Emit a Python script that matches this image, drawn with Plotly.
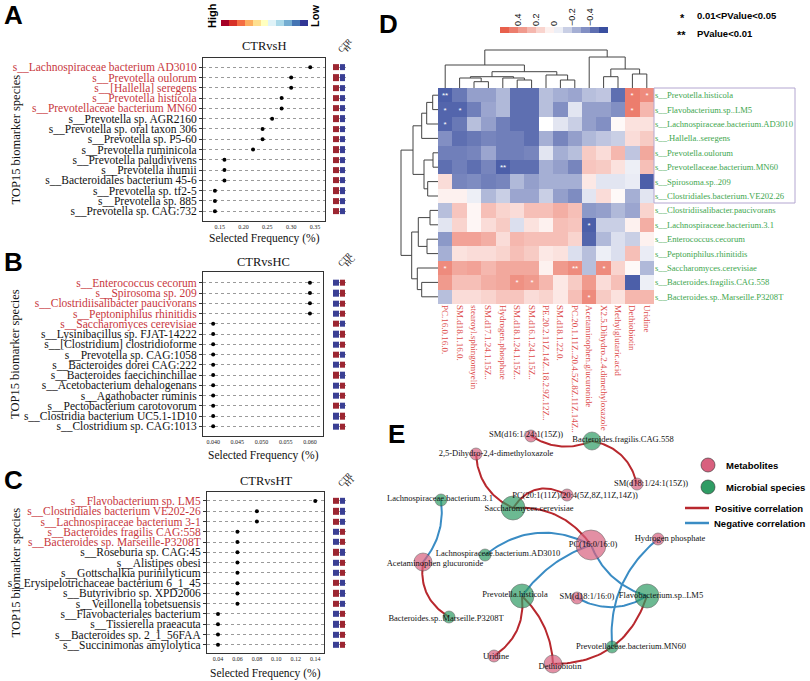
import numpy as np
import plotly.graph_objects as go

W, H = 810, 681
def fx(p): return p / W
def fy(p): return 1 - p / H

SERIF = "Liberation Serif"
SANS = "Liberation Sans"

# ---------------- Panel A/B/C data ----------------
species_A = ["s__Lachnospiraceae bacterium AD3010", "s__Prevotella oulorum", "s__[Hallella] seregens",
             "s__Prevotella histicola", "s__Prevotellaceae bacterium MN60", "s__Prevotella sp. AGR2160",
             "s__Prevotella sp. oral taxon 306", "s__Prevotella sp. P5-60", "s__Prevotella ruminicola",
             "s__Prevotella paludivivens", "s__Prevotella ihumii", "s__Bacteroidales bacterium 45-6",
             "s__Prevotella sp. tf2-5", "s__Prevotella sp. 885", "s__Prevotella sp. CAG:732"]
freq_A = [0.34, 0.30, 0.30, 0.28, 0.28, 0.26, 0.24, 0.24, 0.22, 0.16, 0.16, 0.16, 0.14, 0.14, 0.14]
highlight_A = [1, 1, 1, 1, 1, 0, 0, 0, 0, 0, 0, 0, 0, 0, 0]
ctr_high_A = [1] * 15
ticks_A = [0.15, 0.20, 0.25, 0.30, 0.35]

species_B = ["s__Enterococcus cecorum", "s__Spirosoma sp. 209", "s__Clostridiisalibacter paucivorans",
             "s__Peptoniphilus rhinitidis", "s__Saccharomyces cerevisiae", "s__Lysinibacillus sp. FJAT-14222",
             "s__[Clostridium] clostridioforme", "s__Prevotella sp. CAG:1058", "s__Bacteroides dorei CAG:222",
             "s__Bacteroides faecichinchillae", "s__Acetobacterium dehalogenans", "s__Agathobacter ruminis",
             "s__Pectobacterium carotovorum", "s__Clostridia bacterium UC5.1-1D10", "s__Clostridium sp. CAG:1013"]
freq_B = [0.060, 0.060, 0.060, 0.060, 0.040, 0.040, 0.040, 0.040, 0.040, 0.040, 0.040, 0.040, 0.040, 0.040, 0.040]
highlight_B = [1, 1, 1, 1, 1, 0, 0, 0, 0, 0, 0, 0, 0, 0, 0]
ctr_high_B = [0, 0, 0, 0, 1, 0, 0, 1, 0, 1, 0, 0, 1, 0, 0]
ticks_B = [0.040, 0.045, 0.050, 0.055, 0.060]

species_C = ["s__Flavobacterium sp. LM5", "s__Clostridiales bacterium VE202-26", "s__Lachnospiraceae bacterium 3-1",
             "s__Bacteroides fragilis CAG:558", "s__Bacteroides sp. Marseille-P3208T", "s__Roseburia sp. CAG:45",
             "s__Alistipes obesi", "s__Gottschalkia purinilyticum", "s__Erysipelotrichaceae bacterium 6_1_45",
             "s__Butyrivibrio sp. XPD2006", "s__Veillonella tobetsuensis", "s__Flavobacteriales bacterium",
             "s__Tissierella praeacuta", "s__Bacteroides sp. 2_1_56FAA", "s__Succinimonas amylolytica"]
freq_C = [0.14, 0.08, 0.08, 0.06, 0.06, 0.06, 0.06, 0.06, 0.06, 0.06, 0.06, 0.04, 0.04, 0.04, 0.04]
highlight_C = [1, 1, 1, 1, 1, 0, 0, 0, 0, 0, 0, 0, 0, 0, 0]
ctr_high_C = [1, 1, 1, 0, 0, 1, 0, 0, 1, 1, 1, 0, 0, 0, 0]
ticks_C = [0.04, 0.06, 0.08, 0.10, 0.12, 0.14]

# ---------------- Panel D data ----------------
metabolites = ["PC.16.0.16.0.", "SM.d18.1.16.0.", "stearoyl.sphingomyelin", "SM.d17.1.24.1.15Z..",
               "Hydrogen.phosphate", "SM.d18.1.24.1.15Z..", "SM.d16.1.24.1.15Z..",
               "PE.20.2.11Z.14Z..18.2.9Z.12Z..", "SM.d18.1.22.0.", "PC.20.1.11Z..20.4.5Z.8Z.11Z.14Z..",
               "Acetaminophen.glucuronide", "X2.5.Dihydro.2.4.dimethyloxazole", "Methylglutaric.acid",
               "Dethiobiotin", "Uridine"]
microbes = ["s__Prevotella.histicola", "s__Flavobacterium.sp..LM5", "s__Lachnospiraceae.bacterium.AD3010",
            "s__.Hallella..seregens", "s__Prevotella.oulorum", "s__Prevotellaceae.bacterium.MN60",
            "s__Spirosoma.sp..209", "s__Clostridiales.bacterium.VE202.26", "s__Clostridiisalibacter.paucivorans",
            "s__Lachnospiraceae.bacterium.3.1", "s__Enterococcus.cecorum", "s__Peptoniphilus.rhinitidis",
            "s__Saccharomyces.cerevisiae", "s__Bacteroides.fragilis.CAG.558", "s__Bacteroides.sp..Marseille.P3208T"]
corr = [
    [-0.50, -0.42, -0.30, -0.30, -0.22, -0.45, -0.45, -0.20, -0.25, -0.28, -0.20, -0.18, -0.45, 0.45, 0.40],
    [-0.48, -0.48, -0.40, -0.28, -0.22, -0.45, -0.45, -0.20, -0.35, -0.08, -0.30, -0.30, -0.35, 0.45, 0.25],
    [-0.48, -0.42, -0.20, -0.30, -0.40, -0.45, -0.45, 0.00, -0.08, -0.15, -0.30, -0.35, 0.02, 0.10, 0.10],
    [-0.35, -0.45, -0.42, -0.38, -0.40, -0.40, -0.45, -0.25, -0.38, -0.30, -0.22, -0.18, -0.15, 0.12, 0.18],
    [-0.40, -0.40, -0.38, -0.28, -0.40, -0.40, -0.38, -0.08, -0.25, -0.20, 0.18, 0.12, 0.25, -0.18, 0.30],
    [-0.45, -0.40, -0.45, -0.38, -0.50, -0.45, -0.45, -0.25, -0.30, -0.38, 0.20, 0.18, 0.10, -0.05, 0.22],
    [0.12, -0.38, -0.36, -0.40, -0.38, -0.22, -0.30, -0.25, -0.25, -0.25, 0.08, -0.08, -0.08, -0.06, -0.50],
    [0.05, 0.05, -0.05, -0.22, -0.15, -0.28, -0.28, -0.15, -0.30, -0.36, -0.08, 0.12, 0.02, -0.25, -0.08],
    [-0.20, 0.20, 0.03, 0.22, 0.15, 0.12, 0.22, 0.22, 0.28, 0.22, -0.32, -0.30, -0.22, -0.28, 0.15],
    [-0.08, 0.15, 0.03, 0.12, 0.18, -0.10, 0.10, 0.05, 0.22, 0.20, -0.50, -0.15, -0.15, 0.05, 0.28],
    [-0.32, 0.32, 0.32, 0.28, 0.12, 0.25, 0.22, 0.22, 0.22, 0.15, -0.48, -0.22, -0.10, -0.15, 0.05],
    [-0.25, 0.10, 0.12, 0.12, 0.15, 0.22, 0.18, 0.08, 0.10, -0.10, -0.20, -0.05, -0.10, 0.22, -0.06],
    [0.40, 0.30, 0.32, 0.25, 0.30, 0.30, 0.30, 0.05, 0.35, 0.40, -0.20, 0.40, 0.15, 0.02, -0.22],
    [0.35, 0.22, 0.22, 0.28, 0.30, 0.38, 0.35, 0.25, 0.08, 0.18, 0.35, 0.12, 0.22, -0.50, -0.05],
    [-0.20, 0.12, 0.12, 0.15, 0.20, 0.20, 0.12, 0.15, 0.08, 0.22, 0.40, 0.18, 0.10, 0.25, 0.25],
]
# significance level: 0 none, 1 -> 0.01<p<0.05, 2 -> p<0.01
signif = [
    [2, 0, 0, 0, 0, 0, 0, 0, 0, 0, 0, 0, 0, 1, 1],
    [1, 1, 0, 0, 0, 0, 0, 0, 0, 0, 0, 0, 0, 1, 0],
    [1, 0, 0, 0, 0, 0, 0, 0, 0, 0, 0, 0, 0, 0, 0],
    [0, 0, 0, 0, 0, 0, 0, 0, 0, 0, 0, 0, 0, 0, 0],
    [0, 0, 0, 0, 0, 0, 0, 0, 0, 0, 0, 0, 0, 0, 0],
    [0, 0, 0, 0, 2, 0, 0, 0, 0, 0, 0, 0, 0, 0, 0],
    [0, 0, 0, 0, 0, 0, 0, 0, 0, 0, 0, 0, 0, 0, 0],
    [0, 0, 0, 0, 0, 0, 0, 0, 0, 0, 0, 0, 0, 0, 0],
    [0, 0, 0, 0, 0, 0, 0, 0, 0, 0, 0, 0, 0, 0, 0],
    [0, 0, 0, 0, 0, 0, 0, 0, 0, 0, 1, 0, 0, 0, 0],
    [0, 0, 0, 0, 0, 0, 0, 0, 0, 0, 0, 0, 0, 0, 0],
    [0, 0, 0, 0, 0, 0, 0, 0, 0, 0, 0, 0, 0, 0, 0],
    [1, 0, 0, 0, 0, 0, 0, 0, 0, 2, 0, 1, 0, 0, 0],
    [0, 0, 0, 0, 0, 1, 1, 0, 0, 0, 0, 0, 0, 0, 0],
    [0, 0, 0, 0, 0, 0, 0, 0, 0, 0, 1, 0, 0, 0, 0],
]
# dendrograms as (height, left, right) merges, leaves are indices
col_tree = (38, (23, 0, (16.3, (11.3, (10, 1, (6.3, 2, 3)), (10, 4, (8, 5, 6))), (13, 7, (8, 8, 9)))),
            (31, 10, (19, (11.3, 11, 12), (14, 13, 14))))
row_tree = (37, (25, (16.3, (11.3, (5.3, 0, 1), 2), 3), (14, (5, 4, 5), (10.3, 6, 7))),
            (26.3, (19.7, (8, 8, 9), (11, 10, 11)), (20.7, 12, (16.3, 13, 14))))
cbar_D = [0.55, 0.45, 0.35, 0.25, 0.15, 0.05, -0.05, -0.15, -0.25, -0.35, -0.45, -0.55]
cbar_A = [0, 1, 2, 3, 4, 5, 6, 7, 8, 9, 10]

# ---------------- Panel E data ----------------
node_names = ["SM(d16:1/24:1(15Z))", "Bacteroides.fragilis.CAG.558", "2,5-Dihydro-2,4-dimethyloxazole",
              "SM(d18:1/24:1(15Z))", "PC(20:1(11Z)/20:4(5Z,8Z,11Z,14Z))", "Lachnospiraceae.bacterium.3.1",
              "Saccharomyces.cerevisiae", "PC(16:0/16:0)", "Hydrogen phosphate",
              "Lachnospiraceae.bacterium.AD3010", "Acetaminophen glucuronide", "Prevotella.histicola",
              "SM(d18:1/16:0)", "Flavobacterium.sp..LM5", "Bacteroides.sp..Marseille.P3208T",
              "Prevotellaceae.bacterium.MN60", "Uridine", "Dethiobiotin"]
node_type = ["M", "S", "M", "M", "M", "S", "S", "M", "M", "S", "M", "S", "M", "S", "S", "S", "M", "M"]
# network layout coordinates
node_x = [531, 592, 476, 637, 567, 441, 513, 591, 658, 485, 423, 522, 577, 647, 449, 612, 494, 553]
node_y = [436, 441, 454, 484, 495, 500, 508, 545, 539, 555, 562, 596, 598, 596, 617, 647, 656, 664]
edges = [  # (source, target, sign)
    (0, 1, 1), (1, 3, 1), (2, 6, 1), (6, 4, 1), (6, 7, 1), (10, 14, 1), (11, 16, 1), (11, 17, 1), (13, 17, 1),
    (5, 10, -1), (9, 7, -1), (11, 7, -1), (13, 7, -1), (13, 12, -1), (15, 8, -1),
]
legend_items = ["Metabolites", "Microbial species", "Positive correlation", "Negative correlation"]

# ---------------- style ----------------
edge_curv = [0.26, -0.32, 0.30, -0.45, -0.28, 0.33, -0.30, -0.20, -0.36,
             -0.22, -0.32, -0.16, -0.24, -0.29, -0.26]
label_off = [(-5, -1), (31, -1), (20, 0), (14, 0), (8, 1), (-1, -1), (16, 1), (2, 0), (12, 0),
             (13, -1), (12, 2), (-7, -1), (10, -1), (14, 0), (-3, 2), (19, 0), (2, 1), (7, 3)]
RED_LBL = "#c8373d"
SQ_RED, SQ_BLUE = "#9c2631", "#3a3f94"
HM_SCALE = [[0, "#3a4fa0"], [0.5, "#ffffff"], [1, "#e8604c"]]
PINK, GREEN, POS, NEG = "#d8607e", "#2f9c64", "#b8282e", "#3a8cc4"

fig = go.Figure()
layout = dict(width=W, height=H, margin=dict(l=0, r=0, t=0, b=0, autoexpand=False), paper_bgcolor="white",
              plot_bgcolor="rgba(0,0,0,0)", showlegend=False)
annotations = []
shapes = []

def hidden_axis(domain, rng, anchor, **kw):
    d = dict(domain=domain, range=rng, anchor=anchor, visible=False, showgrid=False, zeroline=False, fixedrange=True)
    d.update(kw)
    return d

def ann(x, y, text, size, family=SERIF, angle=0, xanchor="center", yanchor="middle", color="#111"):
    annotations.append(dict(x=fx(x), y=fy(y), xref="paper", yref="paper", text=text, showarrow=False,
                            textangle=angle, xanchor=xanchor, yanchor=yanchor,
                            font=dict(family=family, size=size, color=color)))

# ---------------- Panels A, B, C ----------------
panels = [
    ("A", species_A, freq_A, highlight_A, ctr_high_A, ticks_A, "CTRvsH", "H",
     (203, 325), (58, 221), (-0.9, 14.95), (0.115, 0.371), 1, 2, 238, 46, 15),
    ("B", species_B, freq_B, highlight_B, ctr_high_B, ticks_B, "CTRvsHC", "HC",
     (203, 323), (272, 436), (-1.05, 14.95), (0.0379, 0.0627), 3, 4, 455, 262, 262),
    ("C", species_C, freq_C, highlight_C, ctr_high_C, ticks_C, "CTRvsHT", "HT",
     (207, 324), (492, 653), (-0.87, 14.8), (0.0287, 0.149), 5, 6, 673, 481, 480),
]
for (letter, sp, fr, hl, ch, tks, title, grp, xd, yd, yr, xr, ia, ib, xt_y, title_y, let_y) in panels:
    n = len(sp)
    rows = list(range(n))
    ticktext = [f"<span style='color:{RED_LBL}'>{s}</span>" if h else s for s, h in zip(sp, hl)]
    layout[f"xaxis{ia}"] = dict(domain=[fx(xd[0]), fx(xd[1])], range=list(xr), anchor=f"y{ia}", showgrid=False,
                                zeroline=False, showline=True, mirror=True, linecolor="#333", linewidth=1,
                                tickvals=tks, ticktext=[f"{t:.3f}" if letter == "B" else f"{t:.2f}" for t in tks],
                                tickfont=dict(family=SERIF, size=6, color="#222"), ticks="", fixedrange=True)
    layout[f"yaxis{ia}"] = dict(domain=[fy(yd[1]), fy(yd[0])], range=[yr[1], yr[0]], anchor=f"x{ia}",
                                tickvals=rows, ticktext=ticktext, showgrid=True, gridcolor="#9a9a9a",
                                griddash="dot", gridwidth=0.7, zeroline=False, showline=True, mirror=True,
                                linecolor="#333", linewidth=1, ticks="outside", ticklen=3, tickcolor="#333",
                                tickfont=dict(family=SERIF, size=11.5, color="#111"), fixedrange=True)
    fig.add_trace(go.Scatter(x=fr, y=rows, mode="markers", xaxis=f"x{ia}", yaxis=f"y{ia}",
                             marker=dict(color="black", size=4), hoverinfo="x+y"))
    z = [[c, 1 - c] for c in ch]
    layout[f"xaxis{ib}"] = hidden_axis([fx(333), fx(346)], [-0.5, 1.5], f"y{ia}")
    fig.add_trace(go.Heatmap(z=z, x=[0, 1], y=rows, xaxis=f"x{ib}", yaxis=f"y{ia}", zmin=0, zmax=1,
                             colorscale=[[0, SQ_BLUE], [1, SQ_RED]], showscale=False, xgap=1, ygap=4,
                             hoverinfo="skip"))
    ann(333, yd[0] - 1, "CTR", 8, angle=-45, xanchor="left", yanchor="bottom")
    ann(339.5, yd[0] - 1, grp, 8, angle=-45, xanchor="left", yanchor="bottom")
    ann((xd[0] + xd[1]) / 2, title_y, title, 12.5)
    ann((xd[0] + xd[1]) / 2, xt_y, "Selected Frequency (%)", 11.5)
    ann(15, (yd[0] + yd[1]) / 2, "TOP15 biomarker species", 12.5, angle=-90)
    ann(14, let_y, f"<b>{letter}</b>", 26, family=SANS, color="black")

# High/Low color bar
layout["xaxis7"] = hidden_axis([fx(221), fx(308)], [-0.5, 10.5], "y7")
layout["yaxis7"] = hidden_axis([fy(26), fy(20)], [-0.5, 0.5], "x7")
fig.add_trace(go.Heatmap(z=[cbar_A], x=cbar_A, y=[0], xaxis="x7", yaxis="y7", colorscale="RdYlBu",
                         showscale=False, hoverinfo="skip"))
ann(212, 16, "<b>High</b>", 11, family=SANS, angle=-90, color="black")
ann(315, 16, "<b>Low</b>", 11, family=SANS, angle=-90, color="black")

# ---------------- Panel D heatmap ----------------
nr, nc = len(microbes), len(metabolites)
hm_x0, hm_x1, hm_y0, hm_y1 = 438, 654, 88, 304
layout["xaxis8"] = dict(domain=[fx(hm_x0), fx(hm_x1)], range=[-0.5, nc - 0.5], anchor="y8",
                        tickvals=list(range(nc)), ticktext=metabolites, tickangle=90, showgrid=False,
                        zeroline=False, showline=False, ticks="",
                        tickfont=dict(family=SERIF, size=9, color="#dd4b4b"), fixedrange=True)
layout["yaxis8"] = dict(domain=[fy(hm_y1), fy(hm_y0)], range=[nr - 0.5, -0.5], anchor="x8", side="right",
                        tickvals=list(range(nr)), ticktext=microbes, showgrid=False, zeroline=False,
                        showline=False, ticks="", tickfont=dict(family=SERIF, size=8.6, color="#3ea64e"),
                        fixedrange=True)
star_text = [["*" * s for s in row] for row in signif]
fig.add_trace(go.Heatmap(z=corr, x=list(range(nc)), y=list(range(nr)), xaxis="x8", yaxis="y8",
                         colorscale=HM_SCALE, zmin=-0.55, zmax=0.55, showscale=False,
                         text=star_text, texttemplate="%{text}",
                         textfont=dict(color="white", size=8, family=SANS)))
shapes.append(dict(type="rect", xref="paper", yref="paper", x0=fx(654), x1=fx(795), y0=fy(203), y1=fy(88),
                   line=dict(color="#b3a6d0", width=1)))

def dendro(tree):
    xs, ys = [], []
    def rec(node):
        if isinstance(node, int):
            return float(node), 0.0
        h, l, r = node
        xl, hl_ = rec(l)
        xr_, hr_ = rec(r)
        xs.extend([xl, xl, xr_, xr_, None])
        ys.extend([hl_, h, h, hr_, None])
        return (xl + xr_) / 2, h
    rec(tree)
    return xs, ys

cx, ch_ = dendro(col_tree)
layout["xaxis9"] = hidden_axis([fx(hm_x0), fx(hm_x1)], [-0.5, nc - 0.5], "y9")
layout["yaxis9"] = hidden_axis([fy(hm_y0), fy(hm_y0 - 40)], [0, 40], "x9")
fig.add_trace(go.Scatter(x=cx, y=ch_, xaxis="x9", yaxis="y9", mode="lines",
                         line=dict(color="#444", width=1), hoverinfo="skip"))
ry, rh = dendro(row_tree)
layout["xaxis10"] = hidden_axis([fx(hm_x0 - 40), fx(hm_x0)], [40, 0], "y10")
layout["yaxis10"] = hidden_axis([fy(hm_y1), fy(hm_y0)], [nr - 0.5, -0.5], "x10")
fig.add_trace(go.Scatter(x=rh, y=ry, xaxis="x10", yaxis="y10", mode="lines",
                         line=dict(color="#444", width=1), hoverinfo="skip"))

# D colour bar
layout["xaxis11"] = dict(domain=[fx(500), fx(608)], range=[0.6, -0.6], anchor="y11", side="top",
                         tickvals=[0.4, 0.2, 0, -0.2, -0.4], ticktext=["0.4", "0.2", "0", "\u22120.2", "\u22120.4"],
                         tickangle=-90, ticks="", showgrid=False, zeroline=False, showline=False,
                         tickfont=dict(family=SANS, size=9, color="#111"), fixedrange=True)
layout["yaxis11"] = hidden_axis([fy(33), fy(27)], [-0.5, 0.5], "x11")
fig.add_trace(go.Heatmap(z=[cbar_D], x=cbar_D, y=[0], xaxis="x11", yaxis="y11", colorscale=HM_SCALE,
                         zmin=-0.55, zmax=0.55, showscale=False, hoverinfo="skip"))
ann(682, 18, "<b>*</b>", 11, family=SANS, color="black")
ann(695, 16, "<b>0.01&lt;PValue&lt;0.05</b>", 9.5, family=SANS, xanchor="left", color="black")
ann(681, 35, "<b>**</b>", 11, family=SANS, color="black")
ann(695, 33, "<b>PValue&lt;0.01</b>", 9.5, family=SANS, xanchor="left", color="black")
ann(388, 24, "<b>D</b>", 26, family=SANS, color="black")

# ---------------- Panel E network ----------------
layout["xaxis12"] = hidden_axis([fx(385), fx(700)], [385, 700], "y12")
layout["yaxis12"] = hidden_axis([fy(681), fy(420)], [681, 420], "x12")
curves = {1: ([], []), -1: ([], [])}
for (s, t, sign), c in zip(edges, edge_curv):
    x0, y0, x1, y1 = node_x[s], node_y[s], node_x[t], node_y[t]
    dx, dy = x1 - x0, y1 - y0
    mx, my = (x0 + x1) / 2, (y0 + y1) / 2
    px, py = mx + c * (-dy), my + c * dx
    tt = np.linspace(0, 1, 40)
    bx = (1 - tt) ** 2 * x0 + 2 * (1 - tt) * tt * px + tt ** 2 * x1
    by = (1 - tt) ** 2 * y0 + 2 * (1 - tt) * tt * py + tt ** 2 * y1
    curves[sign][0].extend(list(bx) + [None])
    curves[sign][1].extend(list(by) + [None])
degree = [0] * len(node_names)
for s, t, _ in edges:
    degree[s] += 1
    degree[t] += 1
sizes = [6 + 6 * d for d in degree]

fig.add_trace(go.Scatter(x=curves[1][0], y=curves[1][1], xaxis="x12", yaxis="y12", mode="lines",
                         line=dict(color=POS, width=2), name=legend_items[2], hoverinfo="skip",
                         cliponaxis=False))
fig.add_trace(go.Scatter(x=curves[-1][0], y=curves[-1][1], xaxis="x12", yaxis="y12", mode="lines",
                         line=dict(color=NEG, width=2), name=legend_items[3], hoverinfo="skip",
                         cliponaxis=False))
for typ, col, nm in [("M", PINK, legend_items[0]), ("S", GREEN, legend_items[1])]:
    idx = [i for i, t in enumerate(node_type) if t == typ]
    fig.add_trace(go.Scatter(x=[node_x[i] for i in idx], y=[node_y[i] for i in idx], xaxis="x12", yaxis="y12",
                             mode="markers", marker=dict(color=col, size=[sizes[i] for i in idx],
                                                         line=dict(color="#333", width=0.6)),
                             name=nm, text=[node_names[i] for i in idx], hoverinfo="text", cliponaxis=False))
fig.add_trace(go.Scatter(x=[node_x[i] + label_off[i][0] for i in range(len(node_names))],
                         y=[node_y[i] + label_off[i][1] for i in range(len(node_names))],
                         xaxis="x12", yaxis="y12", mode="text", text=node_names, cliponaxis=False,
                         textfont=dict(family=SERIF, size=8.5, color="#111"), hoverinfo="skip"))
ann(396, 434, "<b>E</b>", 26, family=SANS, color="black")

# manual legend for E
for (cy, col) in [(465, PINK), (487, GREEN)]:
    shapes.append(dict(type="circle", xref="paper", yref="paper", x0=fx(701), x1=fx(715), y0=fy(cy + 7),
                       y1=fy(cy - 7), fillcolor=col, line=dict(color="#333", width=0.6)))
for (cy, col) in [(508, POS), (523, NEG)]:
    shapes.append(dict(type="line", xref="paper", yref="paper", x0=fx(685), x1=fx(709), y0=fy(cy), y1=fy(cy),
                       line=dict(color=col, width=2.5)))
ann(724, 465, f"<b>{legend_items[0]}</b>", 9.5, family=SANS, xanchor="left", color="black")
ann(724, 487, f"<b>{legend_items[1]}</b>", 9.5, family=SANS, xanchor="left", color="black")
ann(713, 508, f"<b>{legend_items[2]}</b>", 9.5, family=SANS, xanchor="left", color="black")
ann(712, 523, f"<b>{legend_items[3]}</b>", 9.5, family=SANS, xanchor="left", color="black")

layout["annotations"] = annotations
layout["shapes"] = shapes
fig.update_layout(**layout)
fig.write_html("out.html", config={"responsive": False, "displayModeBar": False},
               post_script="document.body.style.margin='0';document.body.style.overflow='hidden';")
